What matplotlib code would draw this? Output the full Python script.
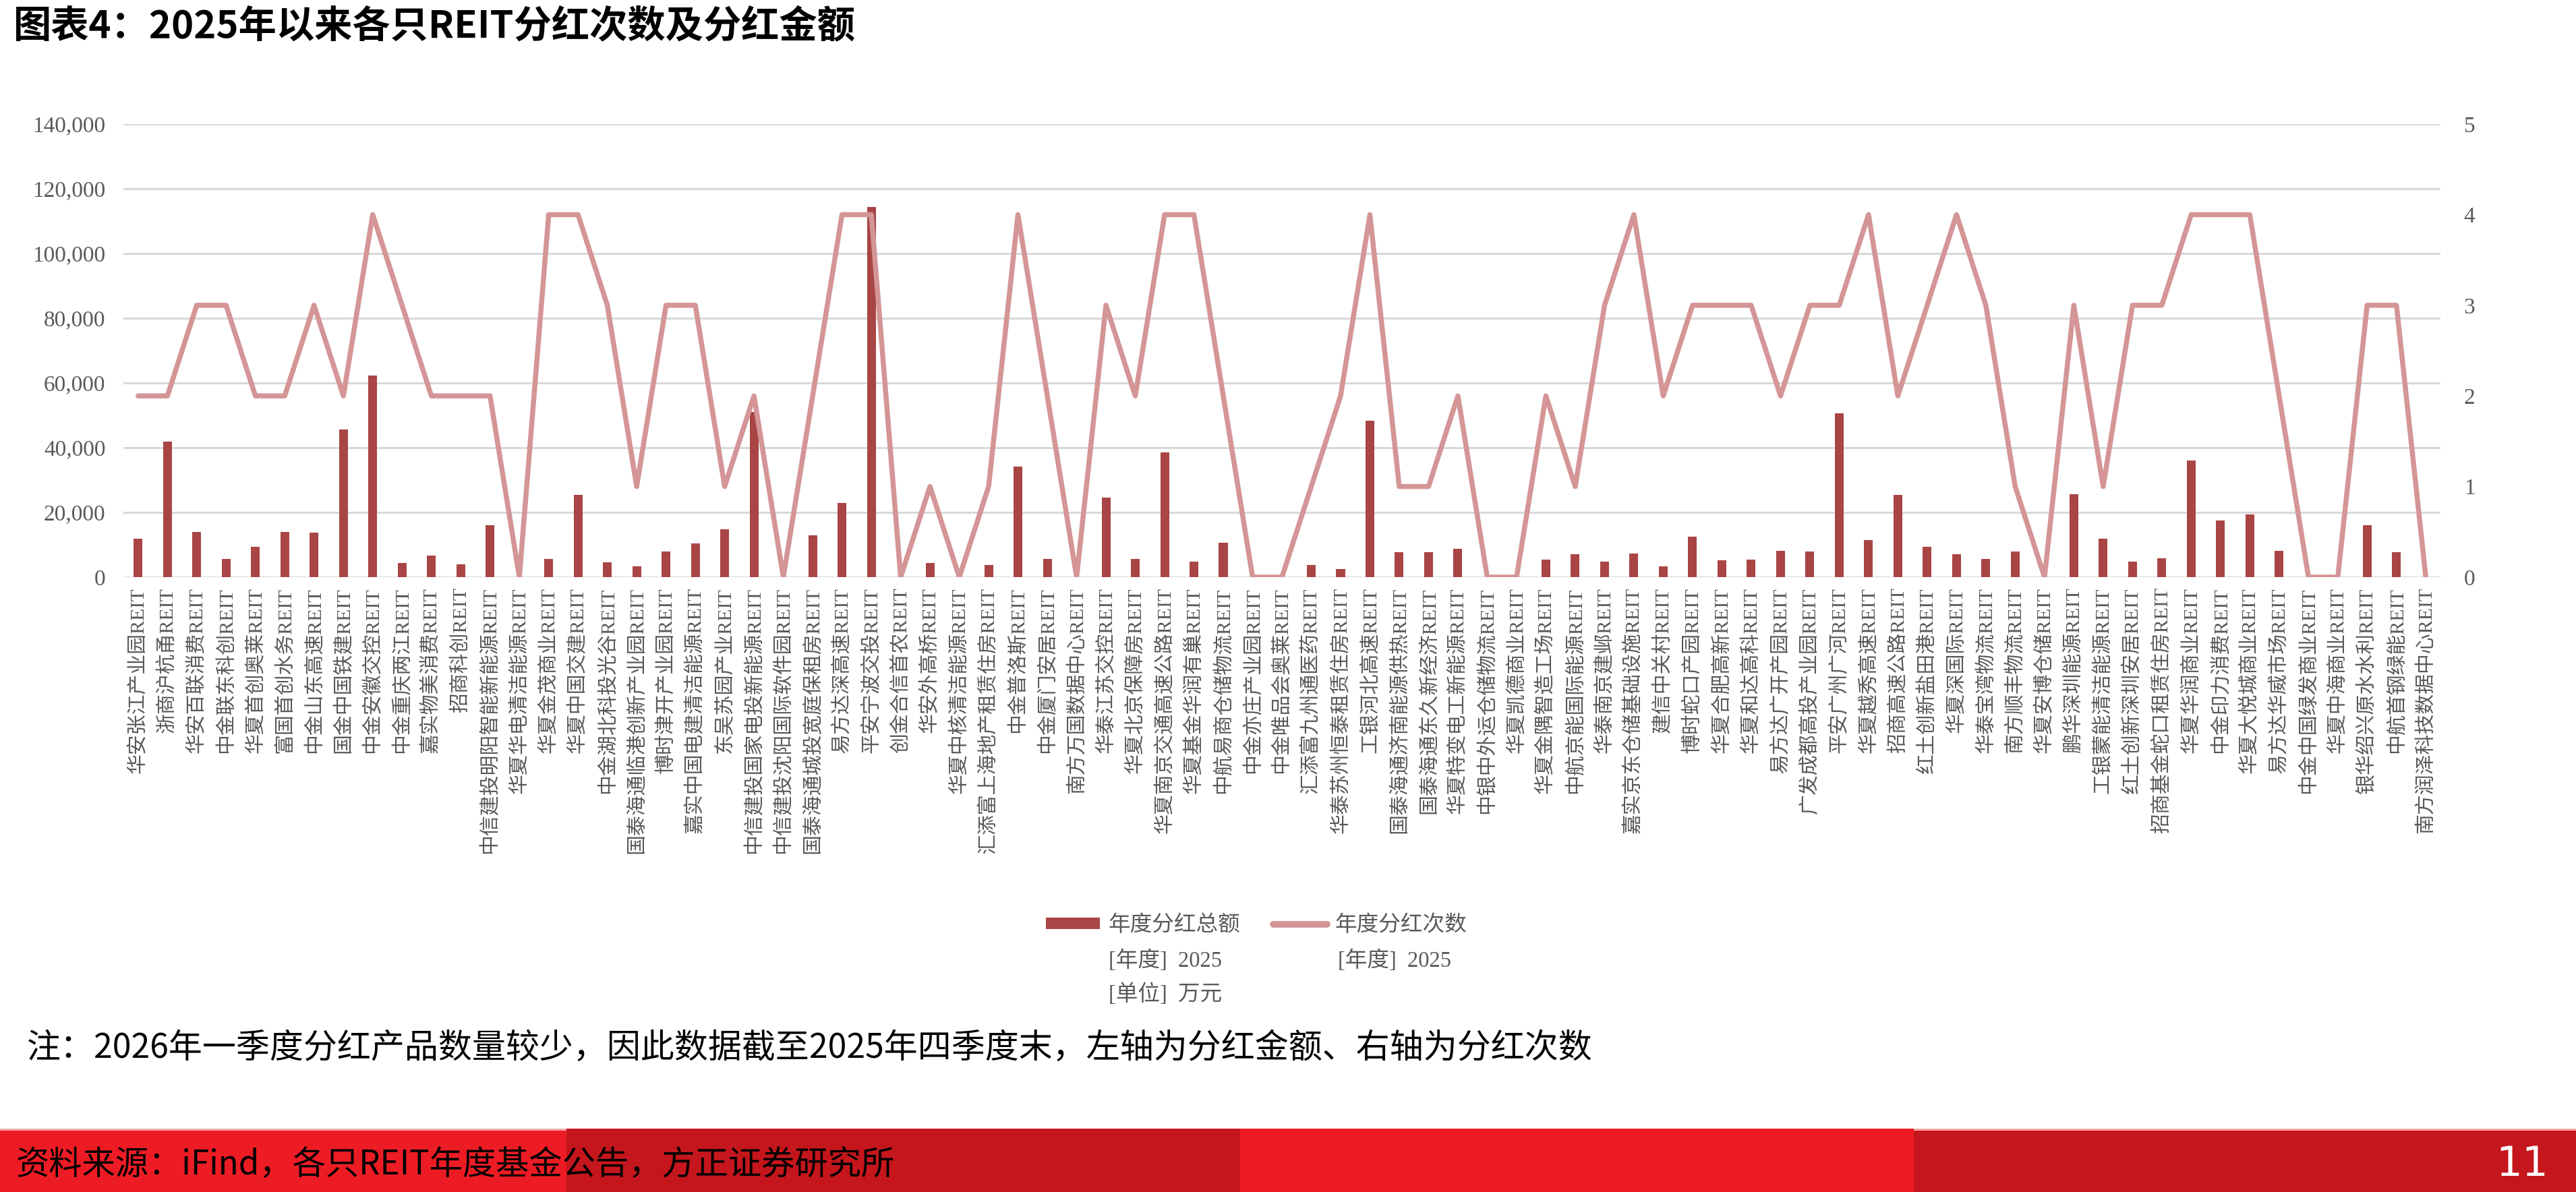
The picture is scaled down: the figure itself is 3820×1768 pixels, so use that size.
##### LIBRARIES ########################
import matplotlib
matplotlib.use('Agg')
import matplotlib.pyplot as plt
from matplotlib.ticker import MultipleLocator, FuncFormatter
from matplotlib.patches import Patch, Rectangle
from matplotlib.lines import Line2D

# serif latin glyphs, CJK falls back to Noto
plt.rcParams['font.family'] = ['Liberation Serif', 'Noto Sans CJK SC']
plt.rcParams['axes.unicode_minus'] = False


##### DATA #####
names = [
    "华安张江产业园REIT", "浙商沪杭甬REIT", "华安百联消费REIT", "中金联东科创REIT",
    "华夏首创奥莱REIT", "富国首创水务REIT", "中金山东高速REIT", "国金中国铁建REIT",
    "中金安徽交控REIT", "中金重庆两江REIT", "嘉实物美消费REIT", "招商科创REIT",
    "中信建投明阳智能新能源REIT", "华夏华电清洁能源REIT", "华夏金茂商业REIT", "华夏中国交建REIT",
    "中金湖北科投光谷REIT", "国泰海通临港创新产业园REIT", "博时津开产业园REIT", "嘉实中国电建清洁能源REIT",
    "东吴苏园产业REIT", "中信建投国家电投新能源REIT", "中信建投沈阳国际软件园REIT", "国泰海通城投宽庭保租房REIT",
    "易方达深高速REIT", "平安宁波交投REIT", "创金合信首农REIT", "华安外高桥REIT",
    "华夏中核清洁能源REIT", "汇添富上海地产租赁住房REIT", "中金普洛斯REIT", "中金厦门安居REIT",
    "南方万国数据中心REIT", "华泰江苏交控REIT", "华夏北京保障房REIT", "华夏南京交通高速公路REIT",
    "华夏基金华润有巢REIT", "中航易商仓储物流REIT", "中金亦庄产业园REIT", "中金唯品会奥莱REIT",
    "汇添富九州通医药REIT", "华泰苏州恒泰租赁住房REIT", "工银河北高速REIT", "国泰海通济南能源供热REIT",
    "国泰海通东久新经济REIT", "华夏特变电工新能源REIT", "中银中外运仓储物流REIT", "华夏凯德商业REIT",
    "华夏金隅智造工场REIT", "中航京能国际能源REIT", "华泰南京建邺REIT", "嘉实京东仓储基础设施REIT",
    "建信中关村REIT", "博时蛇口产园REIT", "华夏合肥高新REIT", "华夏和达高科REIT",
    "易方达广开产园REIT", "广发成都高投产业园REIT", "平安广州广河REIT", "华夏越秀高速REIT",
    "招商高速公路REIT", "红土创新盐田港REIT", "华夏深国际REIT", "华泰宝湾物流REIT",
    "南方顺丰物流REIT", "华夏安博仓储REIT", "鹏华深圳能源REIT", "工银蒙能清洁能源REIT",
    "红土创新深圳安居REIT", "招商基金蛇口租赁住房REIT", "华夏华润商业REIT", "中金印力消费REIT",
    "华夏大悦城商业REIT", "易方达华威市场REIT", "中金中国绿发商业REIT", "华夏中海商业REIT",
    "银华绍兴原水水利REIT", "中航首钢绿能REIT", "南方润泽科技数据中心REIT",
]

# 年度分红总额 (万元)
amount = [
    11900, 41900, 14000, 5650, 9400, 14000, 13800, 45600, 62200, 4400,
    6700, 3900, 16000, 0, 5650, 25400, 4500, 3250, 7850, 10500,
    14700, 51000, 0, 12900, 22900, 114400, 0, 4400, 0, 3700,
    34100, 5700, 0, 24500, 5550, 38500, 4800, 10600, 0, 0,
    3650, 2500, 48300, 7650, 7750, 8700, 0, 0, 5350, 7000,
    4800, 7200, 3350, 12400, 5250, 5350, 8100, 7850, 50600, 11400,
    25400, 9400, 7100, 5550, 7950, 0, 25700, 11950, 4700, 5850,
    36100, 17500, 19400, 8100, 0, 0, 16000, 7750, 0,
]

# 年度分红次数
count = [
    2, 2, 3, 3, 2, 2, 3, 2, 4, 3,
    2, 2, 2, 0, 4, 4, 3, 1, 3, 3,
    1, 2, 0, 2, 4, 4, 0, 1, 0, 1,
    4, 2, 0, 3, 2, 4, 4, 2, 0, 0,
    1, 2, 4, 1, 1, 2, 0, 0, 2, 1,
    3, 4, 2, 3, 3, 3, 2, 3, 3, 4,
    2, 3, 4, 3, 1, 0, 3, 1, 3, 3,
    4, 4, 4, 2, 0, 0, 3, 3, 0,
]

left_ticks = [0, 20000, 40000, 60000, 80000, 100000, 120000, 140000]
right_ticks = [0, 1, 2, 3, 4, 5]

# colours
BAR_COLOR = '#A94545'
LINE_COLOR = '#D49596'
GRID_COLOR = '#D9D9D9'
TXT_GRAY = '#595959'
RED_A = '#ED1C24'
RED_B = '#C4161C'

W, H = 3820, 1768


##### FIGURE #####
fig = plt.figure(figsize=(W / 100, H / 100), dpi=100)
ax = fig.add_axes([183 / W, 1 - 856 / H, (3619 - 183) / W, (856 - 184) / H])
ax2 = ax.twinx()

x = list(range(len(names)))

# bars (left axis)
ax.bar(x, amount, width=0.3, color=BAR_COLOR, zorder=2)
ax.set_xlim(-0.5, len(names) - 0.5)
ax.set_ylim(left_ticks[0], left_ticks[-1])
ax.set_yticks(left_ticks)
ax.yaxis.set_major_formatter(FuncFormatter(lambda v, p: '{:,.0f}'.format(v)))
ax.yaxis.grid(True, color=GRID_COLOR, linewidth=2.2)
ax.set_axisbelow(True)
ax.set_xticks(x)
ax.set_xticklabels(names, rotation=90, fontsize=21.5, color=TXT_GRAY)
ax.tick_params(axis='x', length=0, pad=11)
ax.tick_params(axis='y', length=0, pad=19, labelsize=24, labelcolor=TXT_GRAY)
for s in ax.spines.values():
    s.set_visible(False)

# line (right axis)
ax2.plot(x, count, color=LINE_COLOR, linewidth=5.4,
         solid_joinstyle='round', solid_capstyle='round', zorder=3)
ax2.set_ylim(right_ticks[0], right_ticks[-1])
ax2.yaxis.set_major_locator(MultipleLocator(1))
ax2.tick_params(axis='y', length=0, pad=25, labelsize=24, labelcolor=TXT_GRAY)
for s in ax2.spines.values():
    s.set_visible(False)

## legend
handles = [Patch(facecolor=BAR_COLOR, edgecolor='none'),
           Line2D([], [], color=LINE_COLOR, linewidth=7, solid_capstyle='round')]
leg = ax.legend(handles, ["年度分红总额", "年度分红次数"], ncol=2, frameon=False,
                loc='center left', bbox_to_anchor=(1551 / W, 1 - 1373 / H),
                bbox_transform=fig.transFigure, borderpad=0, borderaxespad=0,
                fontsize=23.5, handlelength=2.45, handleheight=0.45,
                handletextpad=0.37, columnspacing=1.5, labelcolor=TXT_GRAY)

fig.text(1644 / W, 1 - 1425 / H, "[年度]  2025", fontsize=23.5, color=TXT_GRAY, va='center')
fig.text(1644 / W, 1 - 1475 / H, "[单位]  万元", fontsize=23.5, color=TXT_GRAY, va='center')
fig.text(1984 / W, 1 - 1425 / H, "[年度]  2025", fontsize=23.5, color=TXT_GRAY, va='center')

## title / note
fig.text(20 / W, 1 - 39 / H, "图表4：2025年以来各只REIT分红次数及分红金额",
         fontsize=40.5, fontweight='bold', color='black', va='center',
         family=['Noto Sans CJK SC'])
fig.text(40 / W, 1 - 1555 / H,
         "注：2026年一季度分红产品数量较少，因此数据截至2025年四季度末，左轴为分红金额、右轴为分红次数",
         fontsize=36, color='black', va='center', family=['Noto Sans CJK SC'])

## footer band
band_top = 1674
for x0, x1, c in [(0, 840, RED_A), (840, 1839, RED_B), (1839, 2838, RED_A), (2838, W, RED_B)]:
    fig.add_artist(Rectangle((x0 / W, 0), (x1 - x0) / W, (H - band_top) / H,
                             transform=fig.transFigure, facecolor=c, edgecolor='none'))
for x0, x1 in [(0, 840), (2838, W)]:
    fig.add_artist(Rectangle((x0 / W, (H - band_top - 3) / H), (x1 - x0) / W, 3 / H,
                             transform=fig.transFigure, facecolor='#F4A6A6', edgecolor='none'))
fig.text(24 / W, 1 - 1728 / H, "资料来源：iFind，各只REIT年度基金公告，方正证券研究所",
         fontsize=35.5, color='black', va='center', style='italic',
         family=['Noto Sans CJK SC'])
fig.text(3740 / W, 1 - 1728 / H, "11", fontsize=44, color='white', va='center', ha='center',
         family=['DejaVu Sans'])

### Finish figure
plt.savefig('out.png', dpi=100)
plt.close()
